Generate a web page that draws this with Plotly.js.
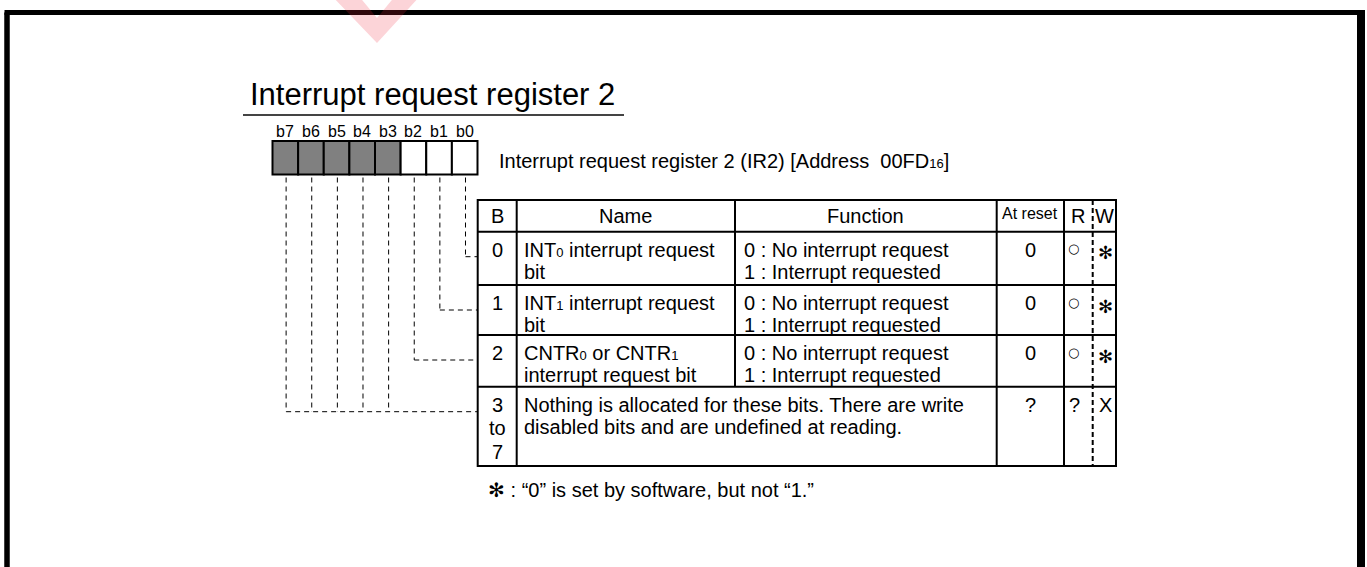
<!DOCTYPE html>
<html>
<head>
<meta charset="utf-8">
<script src="https://cdn.plot.ly/plotly-3.0.1.min.js"></script>
<style>html,body{margin:0;padding:0;background:#fff;}#chart{width:1367px;height:567px;}</style>
</head>
<body>
<div id="chart"></div>
<script>
// ---- data ----
const SUB = (t) => '<span style="font-size:13px">' + t + '</span>';
const titleText = 'Interrupt request register 2';
const registerText = 'Interrupt request register 2 (IR2) [Address\u00a0\u00a000FD' + SUB('16') + ']';
const bitLabels = ['b7', 'b6', 'b5', 'b4', 'b3', 'b2', 'b1', 'b0'];
const bitReserved = [true, true, true, true, true, false, false, false];
const headerLabels = ['B', 'Name', 'Function', 'At reset', 'R', 'W'];
const rowBits = [['0'], ['1'], ['2'], ['3', 'to', '7']];
const rowNames = [
  ['INT' + SUB('0') + ' interrupt request', 'bit'],
  ['INT' + SUB('1') + ' interrupt request', 'bit'],
  ['CNTR' + SUB('0') + ' or CNTR' + SUB('1'), 'interrupt request bit'],
  ['Nothing is allocated for these bits. There are write', 'disabled bits and are undefined at reading.']
];
const rowFunctions = [
  ['0 : No interrupt request', '1 : Interrupt requested'],
  ['0 : No interrupt request', '1 : Interrupt requested'],
  ['0 : No interrupt request', '1 : Interrupt requested'],
  []
];
const rowReset = ['0', '0', '0', '?'];
const rowRead = ['\u25CB', '\u25CB', '\u25CB', '?'];
const rowWrite = ['\u273B', '\u273B', '\u273B', 'X'];
const rowConnectedBits = [[0], [1], [2], [3, 4, 5, 6, 7]];
const footnote = '\u273B : \u201C0\u201D is set by software, but not \u201C1.\u201D';

// ---- layout geometry ----
const W = 1367, H = 567;
const FONT = '"Liberation Sans", Arial, Helvetica, sans-serif';
const SYMFONT = '"DejaVu Sans", "Liberation Sans", sans-serif';
const regX0 = 272.5, regW = 25.625, regY0 = 141, regY1 = 174.5;
const colX = [477.7, 516.7, 735, 996.7, 1064, 1092.7, 1116];
const rowY = [200, 231.7, 285, 335, 386.7, 466];

const shapes = [];
const ann = [];
function line(x0, y0, x1, y1, w, color, dash) {
  shapes.push({type: 'line', xref: 'x', yref: 'y', x0, y0, x1, y1,
    line: {color: color || '#000', width: w, dash: dash || 'solid'}});
}
function text(x, y, t, size, anchor, family) {
  ann.push({xref: 'x', yref: 'y', x, y, text: t, showarrow: false,
    xanchor: anchor || 'center', yanchor: 'middle',
    font: {family: family || FONT, size: size, color: '#000'}});
}

// frame
line(7, 12.5, 7, 600, 5.5);
line(4.5, 12.5, 1364, 12.5, 5);
line(1361, 10, 1361, 600, 8);

// watermark chevron
shapes.push({type: 'path', xref: 'x', yref: 'y',
  path: 'M331,-5 L377,43 L421,-5 L396,-5 L377,18 L358,-5 Z',
  fillcolor: 'rgba(240,40,60,0.2)', line: {width: 0}, layer: 'above'});

// title
text(248, 94, titleText, 31, 'left');
line(243, 115, 624, 115, 2, '#444');

// register boxes
bitLabels.forEach((lab, i) => {
  const x0 = regX0 + i * regW, x1 = x0 + regW;
  shapes.push({type: 'rect', xref: 'x', yref: 'y', x0, x1, y0: regY0, y1: regY1,
    fillcolor: bitReserved[i] ? '#808080' : '#ffffff', line: {color: '#000', width: 2}});
  text((x0 + x1) / 2, 131, lab, 16);
});
text(497, 161, registerText, 20, 'left');

// dashed connectors
const dashStyle = '5px,4px';
rowConnectedBits.forEach((bits, r) => {
  const yc = rowY[r + 1] + 25;
  const xs = bits.map(b => regX0 + (7 - b + 0.5) * regW + 0.8);
  xs.forEach(xc => line(xc, regY1 + 3, xc, yc, 1, '#000', dashStyle));
  line(Math.min(...xs), yc, colX[0], yc, 1, '#000', dashStyle);
});

// table grid
shapes.push({type: 'rect', xref: 'x', yref: 'y', x0: colX[0], x1: colX[6], y0: rowY[0], y1: rowY[5],
  line: {color: '#000', width: 2}, fillcolor: 'rgba(0,0,0,0)'});
for (let r = 1; r < rowY.length - 1; r++) line(colX[0], rowY[r], colX[6], rowY[r], 2);
line(colX[1], rowY[0], colX[1], rowY[5], 2);
line(colX[2], rowY[0], colX[2], rowY[4], 2);
line(colX[3], rowY[0], colX[3], rowY[5], 2);
line(colX[4], rowY[0], colX[4], rowY[5], 2);
line(colX[5], rowY[0], colX[5], rowY[5], 2, '#000', '5px,3px');

// header
const hy = (rowY[0] + rowY[1]) / 2;
text((colX[0] + colX[1]) / 2, hy, headerLabels[0], 20);
text((colX[1] + colX[2]) / 2, hy, headerLabels[1], 20);
text((colX[2] + colX[3]) / 2, hy, headerLabels[2], 20);
text((colX[3] + colX[4]) / 2, hy - 2, headerLabels[3], 16);
text(1078, hy, headerLabels[4], 20);
text(1104, hy, headerLabels[5], 20);

// rows
const pitch = 22;
for (let r = 0; r < rowNames.length; r++) {
  const y1 = rowY[r + 1] + 18;
  rowBits[r].forEach((t, k) => text((colX[0] + colX[1]) / 2, y1 + k * 23.5, t, 20));
  rowNames[r].forEach((t, k) => text(522, y1 + k * pitch, t, 20, 'left'));
  rowFunctions[r].forEach((t, k) => text(742, y1 + k * pitch, t, 20, 'left'));
  text((colX[3] + colX[4]) / 2, y1, rowReset[r], 20);
  if (rowRead[r] === '\u25CB') text(1073, y1 - 1, rowRead[r], 13, 'center', SYMFONT);
  else text(1074, y1, rowRead[r], 20);
  if (rowWrite[r] === '\u273B') text(1105, y1 + 3, rowWrite[r], 18, 'center', SYMFONT);
  else text(1105, y1, rowWrite[r], 20);
}

// footnote
text(486, 490, footnote, 20, 'left');

const layout = {
  width: W, height: H,
  margin: {l: 0, r: 0, t: 0, b: 0},
  paper_bgcolor: '#fff', plot_bgcolor: '#fff',
  xaxis: {range: [0, W], visible: false, fixedrange: true},
  yaxis: {range: [H, 0], visible: false, fixedrange: true},
  showlegend: false,
  shapes: shapes,
  annotations: ann
};
Plotly.newPlot('chart', [{x: [], y: [], type: 'scatter', mode: 'markers', hoverinfo: 'skip'}], layout,
  {staticPlot: true, displayModeBar: false});
</script>
</body>
</html>
